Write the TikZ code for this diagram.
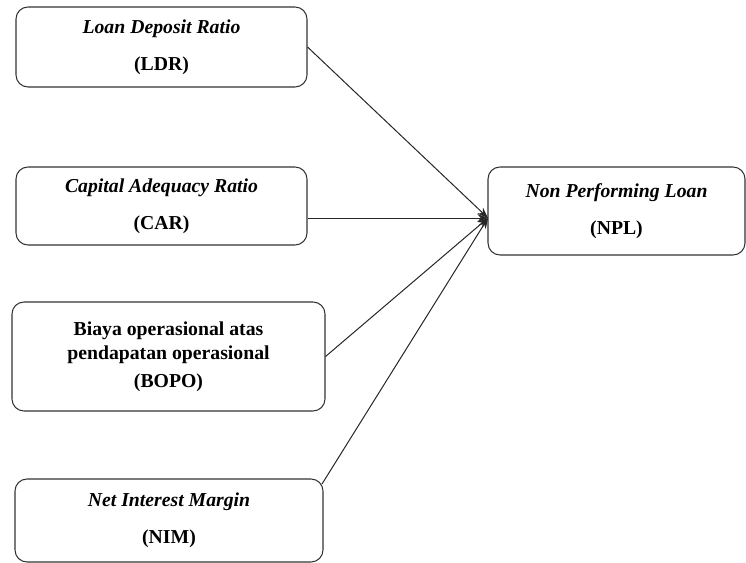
\documentclass[tikz,border=0pt]{standalone}
\usepackage{fontspec}
\setmainfont{Liberation Serif}
\usetikzlibrary{arrows.meta}
\begin{document}
\begin{tikzpicture}[x=0.75pt,y=-0.75pt,
  box/.style={draw=black!80, line width=0.8pt, rounded corners=9pt, align=center,
    font=\fontsize{14.8}{18}\selectfont\bfseries, inner sep=0pt},
  link/.style={draw=black!85, line width=0.75pt, -{Stealth[length=8pt,width=6pt]}}]
\useasboundingbox (0,0) rectangle (746,563);
\clip (0,0) rectangle (746,563);
\node[box, minimum width=218.25pt, minimum height=60pt] (ldr) at (161.5,47)
  {\itshape Loan Deposit Ratio\\[10pt](LDR)};
\node[box, minimum width=218.25pt, minimum height=58.5pt] (car) at (161.5,206)
  {\itshape Capital Adequacy Ratio\\[10pt](CAR)};
\node[box, minimum width=234.75pt, minimum height=81.75pt] (bopo) at (168.5,356.5)
  {Biaya operasional atas\\pendapatan operasional\\[3pt](BOPO)};
\node[box, minimum width=231pt, minimum height=62.25pt] (nim) at (169,520.5)
  {\itshape Net Interest Margin\\[10pt](NIM)};
\node[box, minimum width=192.75pt, minimum height=66pt] (npl) at (616.5,211)
  {\itshape Non Performing Loan\\[10pt](NPL)};
\coordinate (t) at (488,218);
\coordinate (nims) at (322,484);
\draw[link] (ldr.east) -- (t);
\draw[link] (car.east |- t) -- (t);
\draw[link] (bopo.east) -- (t);
\draw[link] (nims) -- (t);
\end{tikzpicture}
\end{document}
